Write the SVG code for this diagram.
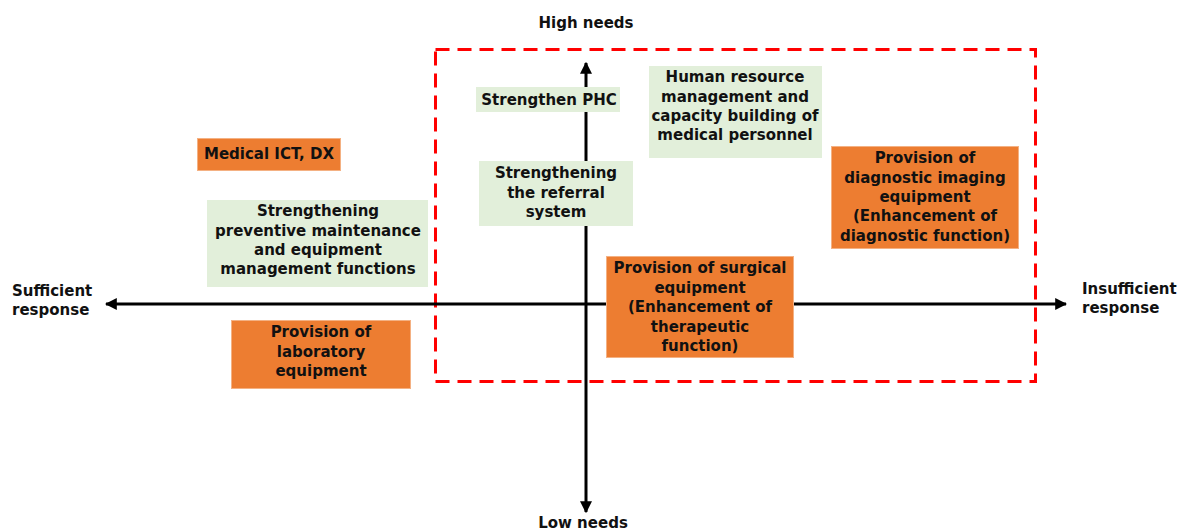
<svg xmlns="http://www.w3.org/2000/svg" width="1183" height="530" viewBox="0 0 1183 530">
  <style>
    text { font-family: "DejaVu Sans", Verdana, sans-serif; font-size: 15px; font-weight: bold; fill: #111; }
    .c { text-anchor: middle; }
    .green { fill: #E2EFDA; }
    .orange { fill: #ED7D31; stroke: #F4B183; stroke-width: 1; }
    .axis { stroke: #000; stroke-width: 3; fill: none; }
    .zone { fill: none; stroke: #FF0000; stroke-width: 3; stroke-dasharray: 14 8; }
  </style>
  <defs>
    <marker id="arrow" viewBox="0 0 10 10" refX="9" refY="5" markerWidth="4" markerHeight="4" orient="auto" markerUnits="strokeWidth">
      <path d="M0,0 L10,5 L0,10 z" fill="#000"/>
    </marker>
  </defs>
  <rect width="1183" height="530" fill="#fff"/>

  <!-- priority zone -->
  <rect class="zone" x="435.5" y="49.5" width="600" height="332"/>

  <!-- axes -->
  <g id="connectors">
    <line class="axis" x1="586" y1="304" x2="586" y2="63" marker-end="url(#arrow)"/>
    <line class="axis" x1="586" y1="304" x2="586" y2="512" marker-end="url(#arrow)"/>
    <line class="axis" x1="586" y1="304" x2="106" y2="304" marker-end="url(#arrow)"/>
    <line class="axis" x1="586" y1="304" x2="1066" y2="304" marker-end="url(#arrow)"/>
  </g>

  <!-- axis labels -->
  <g id="axis-labels">
    <text class="c" x="586" y="28">High needs</text>
    <text class="c" x="583" y="528">Low needs</text>
    <text x="12" y="296">Sufficient</text>
    <text x="12" y="315">response</text>
    <text x="1082" y="294">Insufficient</text>
    <text x="1082" y="313">response</text>
  </g>

  <g id="strengthen-phc">
    <rect class="green" x="476" y="87" width="144" height="25"/>
    <text class="c" x="549" y="105">Strengthen PHC</text>
  </g>

  <g id="human-resource">
    <rect class="green" x="649" y="66" width="173" height="92"/>
    <text class="c" x="735" y="82">Human resource</text>
    <text class="c" x="735" y="102">management and</text>
    <text class="c" x="735" y="121">capacity building of</text>
    <text class="c" x="735" y="140">medical personnel</text>
  </g>

  <g id="medical-ict">
    <rect class="orange" x="197.5" y="138.5" width="143" height="32"/>
    <text class="c" x="269" y="159">Medical ICT, DX</text>
  </g>

  <g id="referral-system">
    <rect class="green" x="479" y="161" width="154" height="65"/>
    <text class="c" x="556" y="178">Strengthening</text>
    <text class="c" x="556" y="198">the referral</text>
    <text class="c" x="556" y="217">system</text>
  </g>

  <g id="preventive-maintenance">
    <rect class="green" x="207" y="200" width="221" height="87"/>
    <text class="c" x="318" y="216">Strengthening</text>
    <text class="c" x="318" y="236">preventive maintenance</text>
    <text class="c" x="318" y="255">and equipment</text>
    <text class="c" x="318" y="274">management functions</text>
  </g>

  <g id="diagnostic-imaging">
    <rect class="orange" x="831.5" y="146.5" width="187" height="102"/>
    <text class="c" x="925" y="163">Provision of</text>
    <text class="c" x="925" y="183">diagnostic imaging</text>
    <text class="c" x="925" y="202">equipment</text>
    <text class="c" x="925" y="221">(Enhancement of</text>
    <text class="c" x="925" y="241">diagnostic function)</text>
  </g>

  <g id="surgical-equipment">
    <rect class="orange" x="606.5" y="256.5" width="187" height="101"/>
    <text class="c" x="700" y="273">Provision of surgical</text>
    <text class="c" x="700" y="293">equipment</text>
    <text class="c" x="700" y="312">(Enhancement of</text>
    <text class="c" x="700" y="332">therapeutic</text>
    <text class="c" x="700" y="351">function)</text>
  </g>

  <g id="laboratory-equipment">
    <rect class="orange" x="231.5" y="320.5" width="179" height="68"/>
    <text class="c" x="321" y="337">Provision of</text>
    <text class="c" x="321" y="357">laboratory</text>
    <text class="c" x="321" y="376">equipment</text>
  </g>
</svg>
